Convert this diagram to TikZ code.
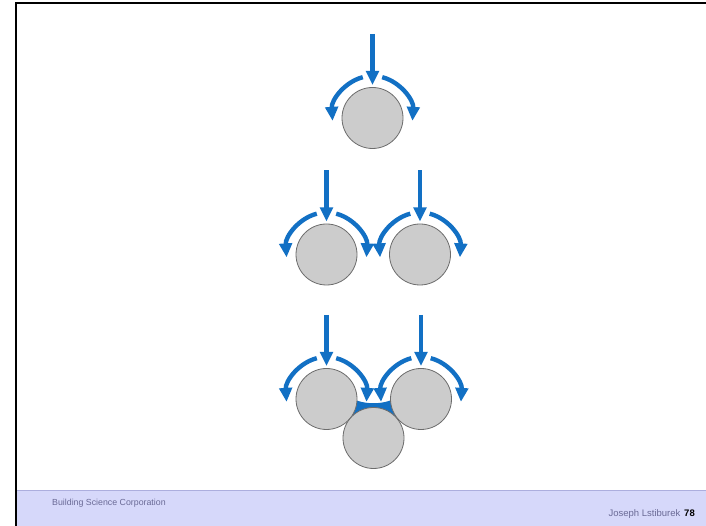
\documentclass[tikz,border=0pt]{standalone}
\usepackage{fontspec}
\setmainfont{Liberation Sans}
\usetikzlibrary{arrows.meta}
\definecolor{flowblue}{RGB}{18,112,196}
\definecolor{graingray}{RGB}{204,204,204}
\definecolor{footband}{RGB}{214,216,250}
\definecolor{footline}{RGB}{172,174,222}
\definecolor{foottext}{RGB}{106,106,150}

\begin{document}
\begin{tikzpicture}[x=1pt,y=1pt,line cap=round,
  flow/.style={draw=flowblue,line width=4.4pt,line cap=butt,-{Triangle[width=12.5pt,length=14pt]}},
  grain/.style={circle,draw=gray!85!black,line width=0.8pt,fill=graingray,minimum size=61pt,inner sep=0pt},
  foot/.style={text=foottext,inner sep=0pt}]
\useasboundingbox (0,0) rectangle (706,526);
% slide frame and footer band
\fill[footband] (16,0) rectangle (706,35);
\draw[footline,line width=1pt] (16,35) -- (706,35);
\draw[black,line width=2.4pt,line cap=rect] (16,0) -- (16,523) -- (706,523);
\node[foot,anchor=west,font=\fontsize{8.8}{10}\selectfont] (org) at (52,23) {Building Science Corporation};
\node[foot,anchor=east,font=\fontsize{9.5}{11}\selectfont] (page) at (695,12) {Joseph Lstiburek\hspace{0.4em}\textcolor{black}{\textbf{78}}};
% meniscus between the touching grains
\fill[flowblue] (351,128) .. controls (364,121) and (383,121) .. (396,128) -- (396,104) -- (351,104) -- cycle;
% grains
\node[grain] (c1) at (372.5,408) {};
\node[grain] (c2a) at (326.5,271.5) {};
\node[grain] (c2b) at (420,271.5) {};
\node[grain] (c3a) at (326.5,127) {};
\node[grain] (c3b) at (421,127) {};
\node[grain] (c3c) at (373.5,88) {};
% water running down and around each upper grain
\foreach \g in {c1,c2a,c2b,c3a,c3b} {
  \draw[flow] ([yshift=84pt]\g.center) -- ([yshift=33pt]\g.center);
  \draw[flow] ([xshift=-9.7pt,yshift=40.8pt]\g.center) arc[start angle=104,end angle=184,x radius=40pt,y radius=42pt];
  \draw[flow] ([xshift=9.7pt,yshift=40.8pt]\g.center) arc[start angle=76,end angle=-4,x radius=40pt,y radius=42pt];
}
\end{tikzpicture}
\end{document}
